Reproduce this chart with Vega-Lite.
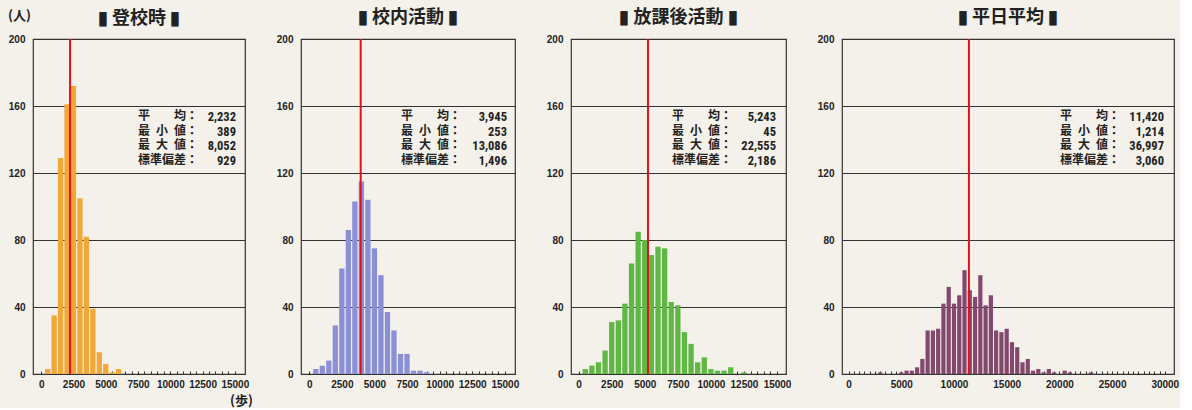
{
  "$schema": "https://vega.github.io/schema/vega-lite/v6.json",
  "background": "#f3f1ea",
  "padding": {"left": 7, "top": 8, "right": 0, "bottom": 0},
  "spacing": 56,
  "bounds": "flush",
  "datasets": {
    "bins": [
      {"panel": "登校時", "step": 500, "count": 3},
      {"panel": "登校時", "step": 1000, "count": 35},
      {"panel": "登校時", "step": 1500, "count": 129},
      {"panel": "登校時", "step": 2000, "count": 161},
      {"panel": "登校時", "step": 2500, "count": 172},
      {"panel": "登校時", "step": 3000, "count": 105},
      {"panel": "登校時", "step": 3500, "count": 82},
      {"panel": "登校時", "step": 4000, "count": 39},
      {"panel": "登校時", "step": 4500, "count": 13},
      {"panel": "登校時", "step": 5000, "count": 6},
      {"panel": "登校時", "step": 5500, "count": 1},
      {"panel": "登校時", "step": 6000, "count": 3},
      {"panel": "校内活動", "step": 500, "count": 3},
      {"panel": "校内活動", "step": 1000, "count": 5},
      {"panel": "校内活動", "step": 1500, "count": 8},
      {"panel": "校内活動", "step": 2000, "count": 29},
      {"panel": "校内活動", "step": 2500, "count": 63},
      {"panel": "校内活動", "step": 3000, "count": 86},
      {"panel": "校内活動", "step": 3500, "count": 103},
      {"panel": "校内活動", "step": 4000, "count": 115},
      {"panel": "校内活動", "step": 4500, "count": 104},
      {"panel": "校内活動", "step": 5000, "count": 75},
      {"panel": "校内活動", "step": 5500, "count": 59},
      {"panel": "校内活動", "step": 6000, "count": 37},
      {"panel": "校内活動", "step": 6500, "count": 26},
      {"panel": "校内活動", "step": 7000, "count": 12},
      {"panel": "校内活動", "step": 7500, "count": 12},
      {"panel": "校内活動", "step": 8000, "count": 2},
      {"panel": "校内活動", "step": 8500, "count": 2},
      {"panel": "校内活動", "step": 9000, "count": 1},
      {"panel": "放課後活動", "step": 500, "count": 3},
      {"panel": "放課後活動", "step": 1000, "count": 5},
      {"panel": "放課後活動", "step": 1500, "count": 7},
      {"panel": "放課後活動", "step": 2000, "count": 14},
      {"panel": "放課後活動", "step": 2500, "count": 31},
      {"panel": "放課後活動", "step": 3000, "count": 32},
      {"panel": "放課後活動", "step": 3500, "count": 42},
      {"panel": "放課後活動", "step": 4000, "count": 66},
      {"panel": "放課後活動", "step": 4500, "count": 85},
      {"panel": "放課後活動", "step": 5000, "count": 80},
      {"panel": "放課後活動", "step": 5500, "count": 71},
      {"panel": "放課後活動", "step": 6000, "count": 76},
      {"panel": "放課後活動", "step": 6500, "count": 75},
      {"panel": "放課後活動", "step": 7000, "count": 43},
      {"panel": "放課後活動", "step": 7500, "count": 41},
      {"panel": "放課後活動", "step": 8000, "count": 25},
      {"panel": "放課後活動", "step": 8500, "count": 18},
      {"panel": "放課後活動", "step": 9000, "count": 7},
      {"panel": "放課後活動", "step": 9500, "count": 10},
      {"panel": "放課後活動", "step": 10000, "count": 3},
      {"panel": "放課後活動", "step": 10500, "count": 2},
      {"panel": "放課後活動", "step": 11000, "count": 2},
      {"panel": "放課後活動", "step": 11500, "count": 4},
      {"panel": "放課後活動", "step": 12500, "count": 1},
      {"panel": "平日平均", "step": 3000, "count": 1},
      {"panel": "平日平均", "step": 5000, "count": 1},
      {"panel": "平日平均", "step": 5500, "count": 2},
      {"panel": "平日平均", "step": 6000, "count": 2},
      {"panel": "平日平均", "step": 6500, "count": 4},
      {"panel": "平日平均", "step": 7000, "count": 9},
      {"panel": "平日平均", "step": 7500, "count": 26},
      {"panel": "平日平均", "step": 8000, "count": 26},
      {"panel": "平日平均", "step": 8500, "count": 27},
      {"panel": "平日平均", "step": 9000, "count": 42},
      {"panel": "平日平均", "step": 9500, "count": 52},
      {"panel": "平日平均", "step": 10000, "count": 42},
      {"panel": "平日平均", "step": 10500, "count": 47},
      {"panel": "平日平均", "step": 11000, "count": 62},
      {"panel": "平日平均", "step": 11500, "count": 50},
      {"panel": "平日平均", "step": 12000, "count": 46},
      {"panel": "平日平均", "step": 12500, "count": 59},
      {"panel": "平日平均", "step": 13000, "count": 41},
      {"panel": "平日平均", "step": 13500, "count": 47},
      {"panel": "平日平均", "step": 14000, "count": 26},
      {"panel": "平日平均", "step": 14500, "count": 25},
      {"panel": "平日平均", "step": 15000, "count": 27},
      {"panel": "平日平均", "step": 15500, "count": 19},
      {"panel": "平日平均", "step": 16000, "count": 16},
      {"panel": "平日平均", "step": 16500, "count": 7},
      {"panel": "平日平均", "step": 17000, "count": 9},
      {"panel": "平日平均", "step": 17500, "count": 2},
      {"panel": "平日平均", "step": 18000, "count": 3},
      {"panel": "平日平均", "step": 18500, "count": 1},
      {"panel": "平日平均", "step": 19000, "count": 3},
      {"panel": "平日平均", "step": 19500, "count": 1},
      {"panel": "平日平均", "step": 20500, "count": 2},
      {"panel": "平日平均", "step": 21000, "count": 1},
      {"panel": "平日平均", "step": 23000, "count": 1}
    ],
    "stats": [
      {"panel": "登校時", "mean": 2232, "labels": "平　　均：\n最\u2002小\u2002値：\n最\u2002大\u2002値：\n標準偏差：", "values": "2,232\n389\n8,052\n929"},
      {"panel": "校内活動", "mean": 3945, "labels": "平　　均：\n最\u2002小\u2002値：\n最\u2002大\u2002値：\n標準偏差：", "values": "3,945\n253\n13,086\n1,496"},
      {"panel": "放課後活動", "mean": 5243, "labels": "平　　均：\n最\u2002小\u2002値：\n最\u2002大\u2002値：\n標準偏差：", "values": "5,243\n45\n22,555\n2,186"},
      {"panel": "平日平均", "mean": 11420, "labels": "平　　均：\n最\u2002小\u2002値：\n最\u2002大\u2002値：\n標準偏差：", "values": "11,420\n1,214\n36,997\n3,060"}
    ]
  },
  "hconcat": [
    {
      "width": 212, "height": 335,
      "title": {"text": "▮ 登校時 ▮", "offset": -18},
      "resolve": {"axis": {"x": "independent"}},
      "layer": [
        {
          "data": {"name": "bins"},
          "transform": [{"filter": {"field": "panel", "equal": "登校時"}}],
          "mark": {"type": "bar", "orient": "vertical", "width": 5.3, "color": "#f2a838"},
          "encoding": {
            "x": {"field": "step", "type": "quantitative", "scale": {"domain": [-250, 15400], "nice": false, "zero": false},
                  "axis": {"orient": "bottom", "title": "(歩)", "titleX": 208, "titleY": 26, "titleAlign": "center", "titleBaseline": "middle", "titleAngle": 0,
                           "values": [0,2500,5000,7500,10000,12500,15000], "ticks": false}},
            "y": {"field": "count", "type": "quantitative", "scale": {"domain": [0, 200], "nice": false},
                  "axis": {"title": null, "values": [0,40,80,120,160,200]}}
          }
        },
        {
          "data": {"name": "stats"},
          "transform": [{"filter": {"field": "panel", "equal": "登校時"}}],
          "mark": {"type": "rule", "color": "#e5101c", "strokeWidth": 2},
          "encoding": {"x": {"field": "mean", "type": "quantitative",
                             "axis": {"orient": "bottom", "title": null, "labels": false, "offset": -3, "tickSize": 3,
                                      "values": [0,500,1000,1500,2000,2500,3000,3500,4000,4500,5000,5500,6000,6500,7000,7500,8000,8500,9000,9500,10000,10500,11000,11500,12000,12500,13000,13500,14000,14500,15000]}}}
        },
        {
          "data": {"name": "stats"},
          "transform": [{"filter": {"field": "panel", "equal": "登校時"}}],
          "mark": {"type": "text", "text": "(人)", "align": "left", "baseline": "middle", "dx": -30, "dy": -23, "fontSize": 13, "font": "Noto Sans CJK JP", "fontWeight": "bold", "color": "#222"},
          "encoding": {"x": {"datum": -250, "axis": null}, "y": {"datum": 200}}
        },
        {
          "data": {"name": "stats"},
          "transform": [{"filter": {"field": "panel", "equal": "登校時"}}],
          "mark": {"type": "text", "align": "left", "baseline": "top", "dx": -102, "dy": 5, "lineBreak": "\n", "lineHeight": 14.7, "fontSize": 12, "font": "Noto Sans CJK JP", "fontWeight": "bold", "color": "#222"},
          "encoding": {"x": {"datum": 15400, "axis": null}, "y": {"datum": 160}, "text": {"field": "labels", "type": "nominal"}}
        },
        {
          "data": {"name": "stats"},
          "transform": [{"filter": {"field": "panel", "equal": "登校時"}}],
          "mark": {"type": "text", "align": "right", "baseline": "top", "dx": -4, "dy": 5, "lineBreak": "\n", "lineHeight": 14.7, "fontSize": 12.5, "font": "Liberation Sans Narrow, Roboto Condensed, DejaVu Sans Condensed, Liberation Sans", "fontWeight": "bold", "color": "#222"},
          "encoding": {"x": {"datum": 15400, "axis": null}, "y": {"datum": 160}, "text": {"field": "values", "type": "nominal"}}
        }
      ]
    },
    {
      "width": 214, "height": 335,
      "title": {"text": "▮ 校内活動 ▮"},
      "resolve": {"axis": {"x": "independent"}},
      "layer": [
        {
          "data": {"name": "bins"},
          "transform": [{"filter": {"field": "panel", "equal": "校内活動"}}],
          "mark": {"type": "bar", "orient": "vertical", "width": 5.3, "color": "#8b8fd6"},
          "encoding": {
            "x": {"field": "step", "type": "quantitative", "scale": {"domain": [-250, 15400], "nice": false, "zero": false},
                  "axis": {"orient": "bottom", "title": null, "values": [0,2500,5000,7500,10000,12500,15000], "ticks": false}},
            "y": {"field": "count", "type": "quantitative", "scale": {"domain": [0, 200], "nice": false},
                  "axis": {"title": null, "values": [0,40,80,120,160,200]}}
          }
        },
        {
          "data": {"name": "stats"},
          "transform": [{"filter": {"field": "panel", "equal": "校内活動"}}],
          "mark": {"type": "rule", "color": "#e5101c", "strokeWidth": 2},
          "encoding": {"x": {"field": "mean", "type": "quantitative",
                             "axis": {"orient": "bottom", "title": null, "labels": false, "offset": -3, "tickSize": 3,
                                      "values": [0,500,1000,1500,2000,2500,3000,3500,4000,4500,5000,5500,6000,6500,7000,7500,8000,8500,9000,9500,10000,10500,11000,11500,12000,12500,13000,13500,14000,14500,15000]}}}
        },
        {
          "data": {"name": "stats"},
          "transform": [{"filter": {"field": "panel", "equal": "校内活動"}}],
          "mark": {"type": "text", "align": "left", "baseline": "top", "dx": -109, "dy": 5, "lineBreak": "\n", "lineHeight": 14.7, "fontSize": 12, "font": "Noto Sans CJK JP", "fontWeight": "bold", "color": "#222"},
          "encoding": {"x": {"datum": 15400, "axis": null}, "y": {"datum": 160}, "text": {"field": "labels", "type": "nominal"}}
        },
        {
          "data": {"name": "stats"},
          "transform": [{"filter": {"field": "panel", "equal": "校内活動"}}],
          "mark": {"type": "text", "align": "right", "baseline": "top", "dx": -3, "dy": 5, "lineBreak": "\n", "lineHeight": 14.7, "fontSize": 12.5, "font": "Liberation Sans Narrow, Roboto Condensed, DejaVu Sans Condensed, Liberation Sans", "fontWeight": "bold", "color": "#222"},
          "encoding": {"x": {"datum": 15400, "axis": null}, "y": {"datum": 160}, "text": {"field": "values", "type": "nominal"}}
        }
      ]
    },
    {
      "width": 215, "height": 335,
      "title": {"text": "▮ 放課後活動 ▮"},
      "resolve": {"axis": {"x": "independent"}},
      "layer": [
        {
          "data": {"name": "bins"},
          "transform": [{"filter": {"field": "panel", "equal": "放課後活動"}}],
          "mark": {"type": "bar", "orient": "vertical", "width": 5.3, "color": "#5fb843"},
          "encoding": {
            "x": {"field": "step", "type": "quantitative", "scale": {"domain": [-200, 15300], "nice": false, "zero": false},
                  "axis": {"orient": "bottom", "title": null, "values": [0,2500,5000,7500,10000,12500,15000], "ticks": false}},
            "y": {"field": "count", "type": "quantitative", "scale": {"domain": [0, 200], "nice": false},
                  "axis": {"title": null, "values": [0,40,80,120,160,200]}}
          }
        },
        {
          "data": {"name": "stats"},
          "transform": [{"filter": {"field": "panel", "equal": "放課後活動"}}],
          "mark": {"type": "rule", "color": "#e5101c", "strokeWidth": 2},
          "encoding": {"x": {"field": "mean", "type": "quantitative",
                             "axis": {"orient": "bottom", "title": null, "labels": false, "offset": -3, "tickSize": 3,
                                      "values": [0,500,1000,1500,2000,2500,3000,3500,4000,4500,5000,5500,6000,6500,7000,7500,8000,8500,9000,9500,10000,10500,11000,11500,12000,12500,13000,13500,14000,14500,15000]}}}
        },
        {
          "data": {"name": "stats"},
          "transform": [{"filter": {"field": "panel", "equal": "放課後活動"}}],
          "mark": {"type": "text", "align": "left", "baseline": "top", "dx": -109, "dy": 5, "lineBreak": "\n", "lineHeight": 14.7, "fontSize": 12, "font": "Noto Sans CJK JP", "fontWeight": "bold", "color": "#222"},
          "encoding": {"x": {"datum": 15300, "axis": null}, "y": {"datum": 160}, "text": {"field": "labels", "type": "nominal"}}
        },
        {
          "data": {"name": "stats"},
          "transform": [{"filter": {"field": "panel", "equal": "放課後活動"}}],
          "mark": {"type": "text", "align": "right", "baseline": "top", "dx": -5, "dy": 5, "lineBreak": "\n", "lineHeight": 14.7, "fontSize": 12.5, "font": "Liberation Sans Narrow, Roboto Condensed, DejaVu Sans Condensed, Liberation Sans", "fontWeight": "bold", "color": "#222"},
          "encoding": {"x": {"datum": 15300, "axis": null}, "y": {"datum": 160}, "text": {"field": "values", "type": "nominal"}}
        }
      ]
    },
    {
      "width": 332, "height": 335,
      "title": {"text": "▮ 平日平均 ▮"},
      "resolve": {"axis": {"x": "independent"}},
      "layer": [
        {
          "data": {"name": "bins"},
          "transform": [{"filter": {"field": "panel", "equal": "平日平均"}}],
          "mark": {"type": "bar", "orient": "vertical", "width": 4.2, "color": "#84476d"},
          "encoding": {
            "x": {"field": "step", "type": "quantitative", "scale": {"domain": [-150, 30400], "nice": false, "zero": false},
                  "axis": {"orient": "bottom", "title": null, "values": [0,5000,10000,15000,20000,25000,30000], "ticks": false}},
            "y": {"field": "count", "type": "quantitative", "scale": {"domain": [0, 200], "nice": false},
                  "axis": {"title": null, "values": [0,40,80,120,160,200]}}
          }
        },
        {
          "data": {"name": "stats"},
          "transform": [{"filter": {"field": "panel", "equal": "平日平均"}}],
          "mark": {"type": "rule", "color": "#e5101c", "strokeWidth": 2},
          "encoding": {"x": {"field": "mean", "type": "quantitative",
                             "axis": {"orient": "bottom", "title": null, "labels": false, "offset": -3, "tickSize": 3,
                                      "values": [0,500,1000,1500,2000,2500,3000,3500,4000,4500,5000,5500,6000,6500,7000,7500,8000,8500,9000,9500,10000,10500,11000,11500,12000,12500,13000,13500,14000,14500,15000,15500,16000,16500,17000,17500,18000,18500,19000,19500,20000,20500,21000,21500,22000,22500,23000,23500,24000,24500,25000,25500,26000,26500,27000,27500,28000,28500,29000,29500,30000]}}}
        },
        {
          "data": {"name": "stats"},
          "transform": [{"filter": {"field": "panel", "equal": "平日平均"}}],
          "mark": {"type": "text", "align": "left", "baseline": "top", "dx": -109, "dy": 5, "lineBreak": "\n", "lineHeight": 14.7, "fontSize": 12, "font": "Noto Sans CJK JP", "fontWeight": "bold", "color": "#222"},
          "encoding": {"x": {"datum": 30400, "axis": null}, "y": {"datum": 160}, "text": {"field": "labels", "type": "nominal"}}
        },
        {
          "data": {"name": "stats"},
          "transform": [{"filter": {"field": "panel", "equal": "平日平均"}}],
          "mark": {"type": "text", "align": "right", "baseline": "top", "dx": -5, "dy": 5, "lineBreak": "\n", "lineHeight": 14.7, "fontSize": 12.5, "font": "Liberation Sans Narrow, Roboto Condensed, DejaVu Sans Condensed, Liberation Sans", "fontWeight": "bold", "color": "#222"},
          "encoding": {"x": {"datum": 30400, "axis": null}, "y": {"datum": 160}, "text": {"field": "values", "type": "nominal"}}
        }
      ]
    }
  ],
  "config": {
    "view": {"stroke": "#333333", "strokeWidth": 1.2},
    "title": {"font": "Noto Sans CJK JP", "fontSize": 18, "fontWeight": "bold", "color": "#222222", "frame": "group", "offset": 7, "anchor": "middle"},
    "axis": {"titleFont": "Noto Sans CJK JP", "titleFontSize": 13, "titleFontWeight": "bold", "titleColor": "#222222"},
    "axisX": {"tickColor": "#333333", "tickWidth": 1, "domain": false, "grid": false, "labelPadding": 5, "labelFontSize": 10, "labelFont": "Liberation Sans", "labelFontWeight": "bold", "labelColor": "#222222", "labelFlush": false, "labelOverlap": false, "format": "d"},
    "axisY": {"grid": true, "gridColor": "#333333", "gridOpacity": 1, "gridWidth": 1, "ticks": false, "domain": false, "labelPadding": 8, "labelFontSize": 10, "labelFont": "Liberation Sans", "labelFontWeight": "bold", "labelColor": "#222222", "labelFlush": false}
  }
}
